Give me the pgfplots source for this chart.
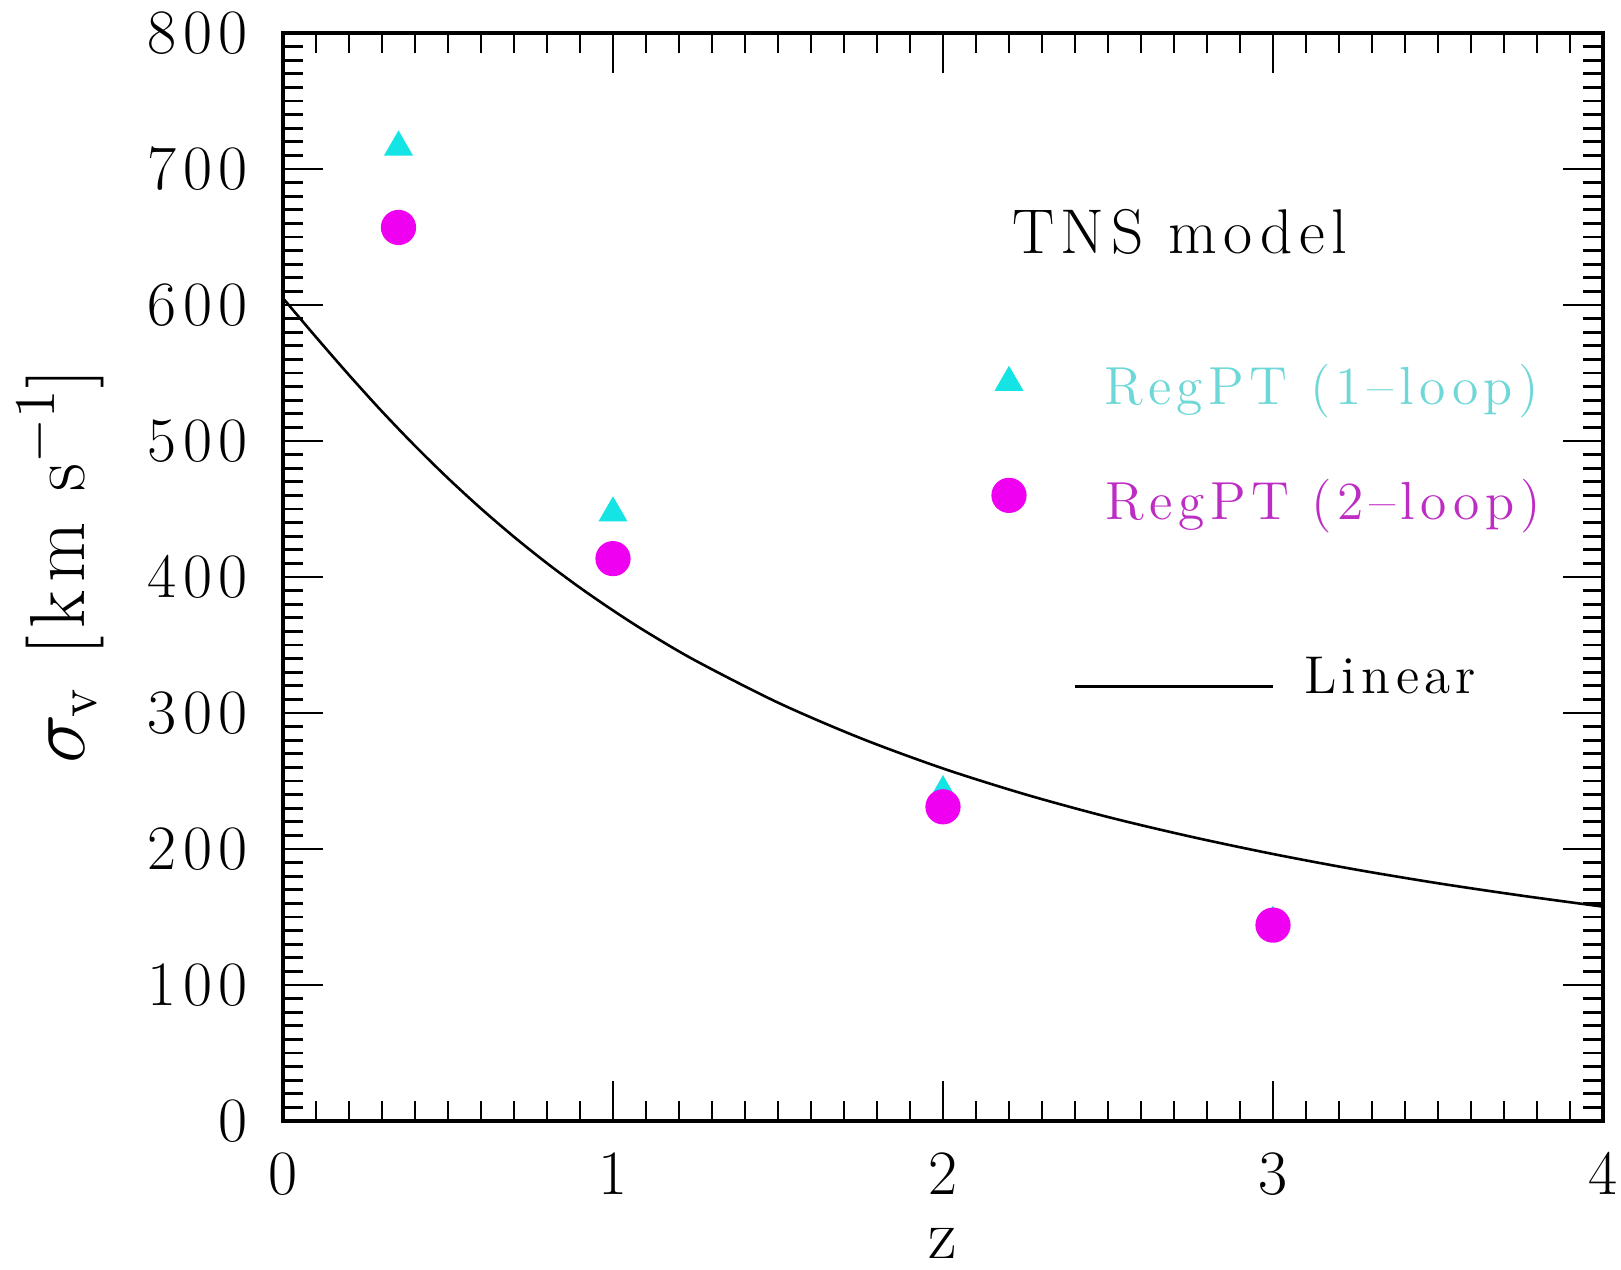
\documentclass[border=0pt]{standalone}
\usepackage{fontspec}
\setmainfont{Latin Modern Roman}[LetterSpace=10]
\usepackage{pgfplots}
\pgfplotsset{compat=1.18}
\definecolor{tri}{RGB}{20,228,228}
\definecolor{cir}{RGB}{240,0,240}
\definecolor{tritext}{RGB}{110,215,215}
\definecolor{cirtext}{RGB}{190,45,195}
\begin{document}
\begin{tikzpicture}
\path[use as bounding box] (-70.75pt,-37.25pt) rectangle (334.5pt,280.25pt);
\begin{axis}[
  at={(0,0)}, anchor=south west,
  width=330pt, height=272pt, scale only axis,
  xmin=0, xmax=4, ymin=0, ymax=800,
  xtick={0,1,2,3,4}, ytick={0,100,...,800},
  minor x tick num=9, minor y tick num=9,
  tick align=inside, tick pos=both,
  major tick length=10pt, minor tick length=5pt,
  every tick/.style={black, line width=0.7pt},
  axis line style={line width=0.8pt},
  ticklabel shift=3.5pt,
  tick label style={font=\fontsize{15.8}{18}\selectfont},
  xticklabel style={yshift=-0.8pt},
  yticklabel style={xshift=-1.8pt},
  /pgf/number format/assume math mode=true,
  xlabel={z},
  ylabel={$\sigma_{\mathrm{v}}$ [km s$^{-1}$]},
  xlabel style={font=\fontsize{17.5}{20}\selectfont, inner sep=0pt, at={(axis description cs:0.5,-0.113)}, anchor=center},
  ylabel style={font=\fontsize{19.5}{22}\selectfont, at={(axis description cs:-0.1686,0.51)}, anchor=center},
]
% Linear prediction
\addplot[black, line width=0.65pt, smooth, mark=none] coordinates {
(0,605) (0.1,576.4) (0.2,548.5) (0.3,521.7) (0.4,496.4) (0.5,472.6)
(0.6,450.3) (0.7,429.5) (0.8,410.1) (0.9,392.1) (1.0,375.4) (1.1,359.8)
(1.25,338.5) (1.5,307.6) (1.75,281.5) (2.0,259.2) (2.25,240.1)
(2.5,223.5) (2.75,209.1) (3.0,196.3) (3.25,184.9) (3.5,174.8) (3.75,165.8) (4.0,157.6)};
% RegPT 1-loop
\addplot[only marks, mark=triangle*, mark size=3.8pt, color=tri] coordinates {
(0.35,716) (1,447) (2,242) (3,146)};
% RegPT 2-loop
\addplot[only marks, mark=*, mark size=4.2pt, color=cir] coordinates {
(0.35,657) (1,413.5) (2,231) (3,144)};
% legend samples
\addplot[only marks, mark=triangle*, mark size=3.8pt, color=tri] coordinates {(2.2,543)};
\addplot[only marks, mark=*, mark size=4.2pt, color=cir] coordinates {(2.2,460)};
\addplot[black, line width=0.65pt, mark=none] coordinates {(2.4,319.3) (3.0,319.3)};
\node[anchor=base west, inner sep=0pt, font=\fontsize{15.8}{18}\selectfont] at (axis cs:2.208,638) {TNS model};
\node[anchor=base west, inner sep=0pt, text=tritext, font=\fontsize{13.4}{16}\selectfont] at (axis cs:2.486,526.5) {RegPT (1--loop)};
\node[anchor=base west, inner sep=0pt, text=cirtext, font=\fontsize{13.4}{16}\selectfont] at (axis cs:2.491,441.9) {RegPT (2--loop)};
\node[anchor=base west, inner sep=0pt, font=\fontsize{13.3}{15}\selectfont] at (axis cs:3.092,314.5) {Linear};
\end{axis}
\end{tikzpicture}
\end{document}
